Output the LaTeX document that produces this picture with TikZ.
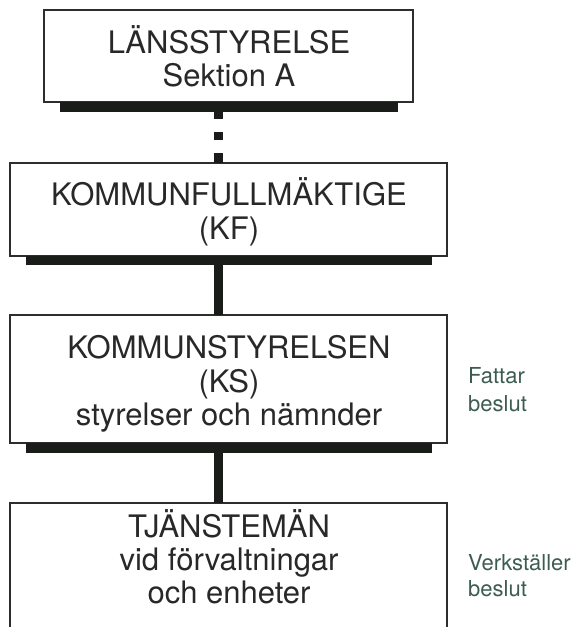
\documentclass[tikz,border=0pt]{standalone}
\usepackage{fontspec}
\setmainfont{TeX Gyre Heros}
\definecolor{boxline}{RGB}{45,45,45}
\definecolor{barcol}{RGB}{25,28,25}
\definecolor{txtcol}{RGB}{40,40,40}
\definecolor{labcol}{RGB}{60,92,82}
\begin{document}
\begin{tikzpicture}[x=1pt,y=-1pt,
  box/.style={draw=boxline, line width=1.8pt, fill=white, inner sep=0pt, outer sep=0pt, anchor=north west},
  bar/.style={fill=barcol, draw=none, inner sep=0pt, outer sep=0pt, anchor=north west},
  conn/.style={draw=barcol, line width=9pt},
  txt/.style={font=\fontsize{31}{33}\selectfont, text=txtcol, anchor=base, inner sep=0pt},
  lab/.style={font=\fontsize{22}{26}\selectfont, text=labcol, anchor=base west, inner sep=0pt}
]
\useasboundingbox (0,0) rectangle (578,627);
\coordinate (cx) at (218,0);

% boxes
\node[box, minimum width=369pt, minimum height=92pt] (b1) at (44,10) {};
\node[bar, minimum width=338pt, minimum height=10pt] (s1) at (60,102) {};
\node[box, minimum width=437pt, minimum height=93pt] (b2) at (10,163) {};
\node[bar, minimum width=406pt, minimum height=9pt] (s2) at (26,256) {};
\node[box, minimum width=437pt, minimum height=128pt] (b3) at (10,315) {};
\node[bar, minimum width=406pt, minimum height=10pt] (s3) at (26,443) {};
\node[box, minimum width=437pt, minimum height=140pt] (b4) at (10,503) {};

% connectors
\draw[conn, dash pattern=on 7pt off 13pt on 8pt off 13pt on 12pt] (s1.south -| cx) -- (b2.north -| cx);
\draw[conn] (s2.south -| cx) -- (b3.north -| cx);
\draw[conn] (s3.south -| cx) -- (b4.north -| cx);

% box texts
\node[txt] (t1a) at (229,53) {LÄNSSTYRELSE};
\node[txt] (t1b) at (229,86) {Sektion A};
\node[txt] (t2a) at (229,205) {KOMMUNFULLMÄKTIGE};
\node[txt] (t2b) at (229,239) {(KF)};
\node[txt] (t3a) at (229,358) {KOMMUNSTYRELSEN};
\node[txt] (t3b) at (229,392) {(KS)};
\node[txt] (t3c) at (229,425) {styrelser och nämnder};
\node[txt] (t4a) at (229,537) {TJÄNSTEMÄN};
\node[txt] (t4b) at (229,570) {vid förvaltningar};
\node[txt] (t4c) at (229,603) {och enheter};

% side labels
\node[lab] (l1a) at (468,383) {Fattar};
\node[lab] (l1b) at (468,411) {beslut};
\node[lab] (l2a) at (468,570) {Verkställer};
\node[lab] (l2b) at (468,596) {beslut};
\end{tikzpicture}
\end{document}
